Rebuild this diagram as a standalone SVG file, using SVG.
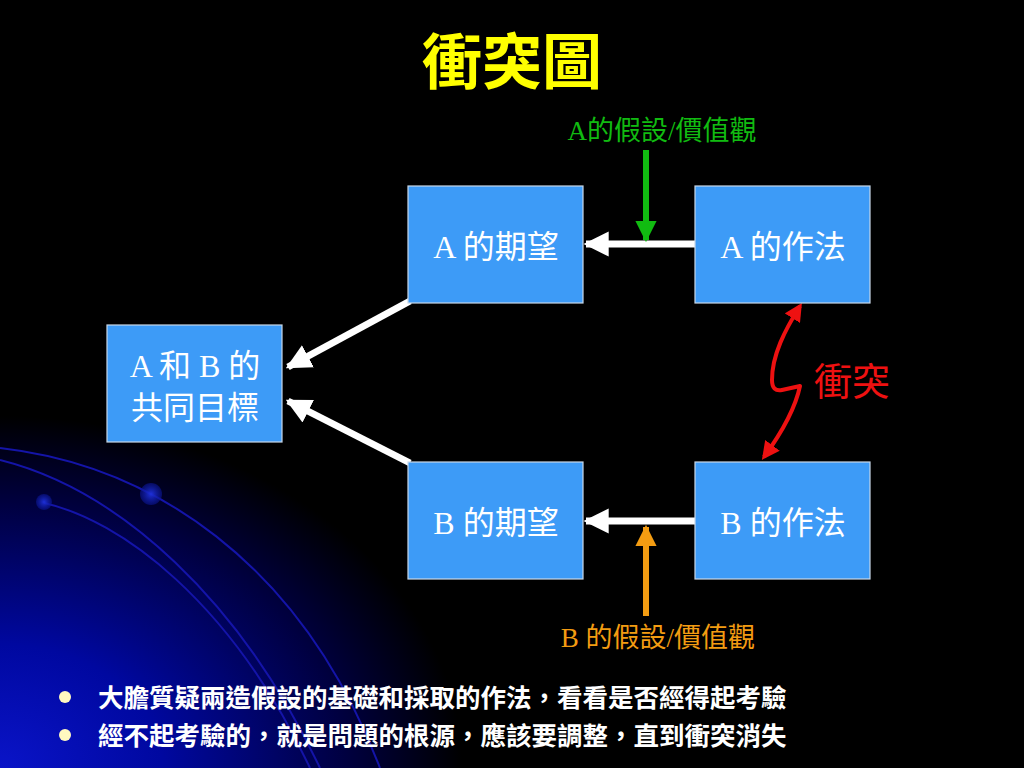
<svg xmlns="http://www.w3.org/2000/svg" width="1024" height="768" viewBox="0 0 1024 768">
<defs>
<radialGradient id="glow" gradientUnits="userSpaceOnUse" cx="0" cy="768" r="440" gradientTransform="translate(0,768) scale(1.05,0.8) translate(0,-768)">
<stop offset="0" stop-color="#0a14c8"/>
<stop offset="0.35" stop-color="#0008a0"/>
<stop offset="0.75" stop-color="#000040"/>
<stop offset="1" stop-color="#000000"/>
</radialGradient>
<radialGradient id="dot">
<stop offset="0" stop-color="#1e30d8"/>
<stop offset="1" stop-color="#0a1490" stop-opacity="0.6"/>
</radialGradient>
<marker id="wh" viewBox="0 0 10 10" refX="9" refY="5" markerWidth="3.6" markerHeight="3.6" orient="auto" markerUnits="strokeWidth">
<path d="M0,0 L10,5 L0,10 Z" fill="#ffffff"/>
</marker>
<marker id="gh" viewBox="0 0 10 10" refX="9" refY="5" markerWidth="3.6" markerHeight="3.6" orient="auto" markerUnits="strokeWidth">
<path d="M0,0 L10,5 L0,10 Z" fill="#11bb11"/>
</marker>
<marker id="oh" viewBox="0 0 10 10" refX="9" refY="5" markerWidth="3.6" markerHeight="3.6" orient="auto" markerUnits="strokeWidth">
<path d="M0,0 L10,5 L0,10 Z" fill="#f39c12"/>
</marker>
<marker id="rh" viewBox="0 0 10 10" refX="8" refY="5" markerWidth="4.5" markerHeight="4.5" orient="auto-start-reverse" markerUnits="strokeWidth">
<path d="M0,0 L10,5 L0,10 Z" fill="#ee1111"/>
</marker>
<style>
.box{fill:#3d9bf7;stroke:#c8d8e8;stroke-width:1.2}
.bt{font-family:"Liberation Serif","Noto Sans CJK TC",serif;font-size:32px;fill:#ffffff;text-anchor:middle}
.wa{stroke:#ffffff;stroke-width:7;fill:none;marker-end:url(#wh)}
.arc{stroke:#1414a8;stroke-width:2;fill:none}
.bl{font-family:"Liberation Sans","Noto Sans CJK TC",sans-serif;font-size:25.5px;font-weight:bold;fill:#ffffff}
.lab{font-family:"Liberation Serif","Noto Sans CJK TC",serif;font-size:27px;text-anchor:middle}
</style>
</defs>
<rect width="1024" height="768" fill="#000"/>
<rect width="1024" height="768" fill="url(#glow)"/>
<g id="decor">
<path class="arc" d="M0,448 C150,465 300,560 380,768"/>
<path class="arc" d="M0,460 C120,490 240,600 320,768"/>
<path class="arc" d="M44,503 C120,520 230,600 310,768"/>
<circle cx="151" cy="494" r="11" fill="url(#dot)"/>
<circle cx="44" cy="502" r="8" fill="url(#dot)"/>
</g>
<text x="512" y="84" font-family="'Liberation Sans','Noto Sans CJK TC',sans-serif" font-size="60" font-weight="bold" fill="#ffff00" text-anchor="middle">衝突圖</text>
<g id="connectors">
<line class="wa" x1="695" y1="244" x2="586" y2="244"/>
<line class="wa" x1="410" y1="301" x2="288" y2="367"/>
<line class="wa" x1="410" y1="463" x2="288" y2="401"/>
<line class="wa" x1="695" y1="521" x2="586" y2="521"/>
<line x1="646" y1="150" x2="646" y2="240" stroke="#11bb11" stroke-width="6" marker-end="url(#gh)"/>
<line x1="646" y1="616" x2="646" y2="527" stroke="#f39c12" stroke-width="6" marker-end="url(#oh)"/>
<path d="M800,306 C785,330 772,355 772,380 Q772,392 782,390 L800,386 C795,410 780,435 764,457" stroke="#ee1111" stroke-width="4" fill="none" stroke-linejoin="round" marker-start="url(#rh)" marker-end="url(#rh)"/>
</g>
<g id="label-a-assume"><text class="lab" x="662" y="140" fill="#11bb11">A的假設/價值觀</text></g>
<g id="label-b-assume"><text class="lab" x="658" y="647" fill="#f39c12">B 的假設/價值觀</text></g>
<g id="label-conflict"><text x="852" y="395" font-family="'Liberation Serif','Noto Sans CJK TC',serif" font-size="38" fill="#ee1111" text-anchor="middle">衝突</text></g>
<g id="a-expect"><rect class="box" x="408" y="186" width="175" height="117"/><text class="bt" x="496" y="258">A 的期望</text></g>
<g id="a-method"><rect class="box" x="695" y="186" width="175" height="117"/><text class="bt" x="783" y="258">A 的作法</text></g>
<g id="goal"><rect class="box" x="107" y="325" width="175" height="117"/><text class="bt" x="195" y="377">A 和 B 的</text><text class="bt" x="195" y="419">共同目標</text></g>
<g id="b-expect"><rect class="box" x="408" y="462" width="175" height="117"/><text class="bt" x="496" y="534">B 的期望</text></g>
<g id="b-method"><rect class="box" x="695" y="462" width="175" height="117"/><text class="bt" x="783" y="534">B 的作法</text></g>
<g id="bullets">
<circle cx="65" cy="697" r="6" fill="#fff8c0"/>
<circle cx="65" cy="735" r="6" fill="#fff8c0"/>
<text class="bl" x="98" y="707">大膽質疑兩造假設的基礎和採取的作法，看看是否經得起考驗</text>
<text class="bl" x="98" y="745">經不起考驗的，就是問題的根源，應該要調整，直到衝突消失</text>
</g>
</svg>
